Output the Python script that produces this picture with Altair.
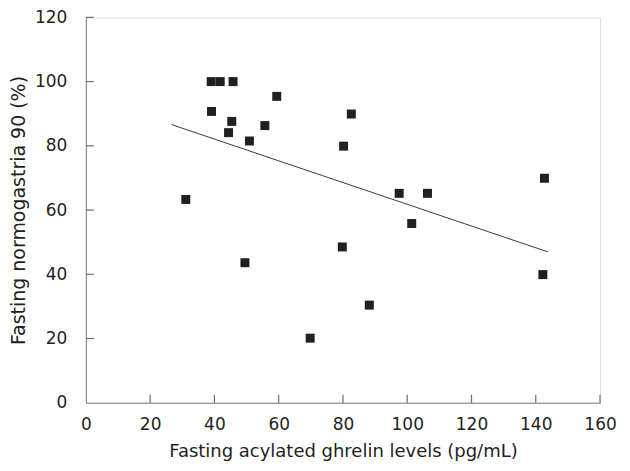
import altair as alt
import pandas as pd

# Data
ghrelin = [31.1, 39.0, 41.8, 45.8, 59.4, 39.1, 45.4, 44.4, 55.7, 50.9, 49.5,
           82.6, 80.2, 79.8, 88.2, 69.8, 97.5, 106.3, 101.4, 142.7, 142.2]
normogastria = [63.3, 100.0, 100.0, 100.0, 95.4, 90.7, 87.6, 84.1, 86.3, 81.5, 43.6,
                89.9, 79.9, 48.5, 30.4, 20.1, 65.2, 65.2, 55.8, 69.9, 39.9]
fit_x = [26.7, 143.7]
fit_y = [86.6, 47.0]
x_ticks = [0, 20, 40, 60, 80, 100, 120, 140, 160]
y_ticks = [0, 20, 40, 60, 80, 100, 120]

pts = pd.DataFrame({"x": ghrelin, "y": normogastria})
fit = pd.DataFrame({"x": fit_x, "y": fit_y})
xt = pd.DataFrame({"tx": [float(v) for v in x_ticks[1:]], "ty": [0.0] * (len(x_ticks) - 1)})
yt = pd.DataFrame({"ty": [float(v) for v in y_ticks[1:]], "tx": [0.0] * (len(y_ticks) - 1)})

FONT = "DejaVu Sans"
TXT = "#231f20"
AX = "#808080"
TICK = "#6e6e6e"

xscale = alt.Scale(domain=[0, 160], nice=False, zero=False)
yscale = alt.Scale(domain=[0, 120], nice=False, zero=False)

xaxis = alt.Axis(values=x_ticks, grid=False, ticks=False, domainColor=AX, domainWidth=1,
                 labelFlush=False,
                 labelFont=FONT, labelFontSize=17, labelColor=TXT, labelPadding=14,
                 title="Fasting acylated ghrelin levels (pg/mL)", titleFont=FONT,
                 titleFontSize=18, titleFontWeight="normal", titleColor=TXT, titlePadding=10)
yaxis = alt.Axis(values=y_ticks, grid=False, ticks=False, domainColor=AX, domainWidth=1,
                 labelFlush=False,
                 labelFont=FONT, labelFontSize=17, labelColor=TXT, labelPadding=19,
                 title="Fasting normogastria 90 (%)", titleFont=FONT,
                 titleFontSize=19, titleFontWeight="normal", titleColor=TXT, titlePadding=6)

points = alt.Chart(pts).mark_square(size=81, color=TXT, opacity=1).encode(
    x=alt.X("x:Q", scale=xscale, axis=xaxis),
    y=alt.Y("y:Q", scale=yscale, axis=yaxis),
)

line = alt.Chart(fit).mark_line(color="#3a3a3a", strokeWidth=1).encode(
    x=alt.X("x:Q", scale=xscale),
    y=alt.Y("y:Q", scale=yscale),
)

# inward tick marks on the x axis
xticks = alt.Chart(xt).mark_tick(orient="vertical", size=8, thickness=1.2, color=TICK,
                                 opacity=1, yOffset=-4).encode(
    x=alt.X("tx:Q", scale=xscale),
    y=alt.Y("ty:Q", scale=yscale),
)

# inward tick marks on the y axis
yticks = alt.Chart(yt).mark_tick(orient="horizontal", size=8, thickness=1.2, color=TICK,
                                 opacity=1, xOffset=4).encode(
    x=alt.X("tx:Q", scale=xscale),
    y=alt.Y("ty:Q", scale=yscale),
)

chart = alt.layer(line, points, xticks, yticks).properties(
    width=515,
    height=386,
    autosize=alt.AutoSizeParams(type="none"),
    padding={"left": 78, "top": 9, "right": 22, "bottom": 60},
).configure_view(stroke=None).configure(background="white")

chart.save("out.html", embed_options={"renderer": "svg", "actions": False})
